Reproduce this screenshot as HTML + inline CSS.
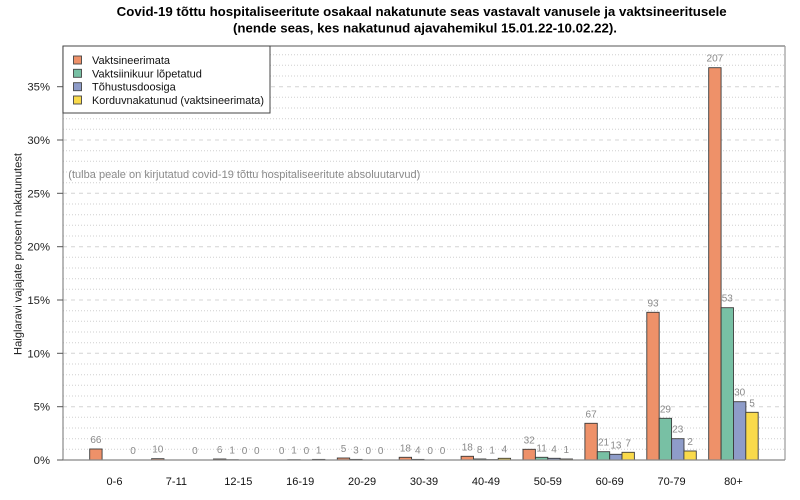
<!DOCTYPE html>
<html><head><meta charset="utf-8"><style>
html,body{margin:0;padding:0;background:#fff;}
svg{display:block;font-family:"Liberation Sans",Arial,sans-serif;}
</style></head><body>
<svg width="800" height="500" viewBox="0 0 800 500" xmlns="http://www.w3.org/2000/svg">
<rect width="800" height="500" fill="#fff"/>
<!-- title -->
<text x="421.7" y="16" text-anchor="middle" font-size="12.5" font-weight="bold" fill="#000" textLength="610" lengthAdjust="spacingAndGlyphs">Covid-19 tõttu hospitaliseeritute osakaal nakatunute seas vastavalt vanusele ja vaktsineeritusele</text>
<text x="425" y="32.5" text-anchor="middle" font-size="12.5" font-weight="bold" fill="#000" textLength="384" lengthAdjust="spacingAndGlyphs">(nende seas, kes nakatunud ajavahemikul 15.01.22-10.02.22).</text>

<!-- grid: dotted -->
<g stroke="#cfcfcf" stroke-width="1" stroke-dasharray="1 2" fill="none">
<line x1="63" x2="785" y1="449.3" y2="449.3"/><line x1="63" x2="785" y1="438.7" y2="438.7"/><line x1="63" x2="785" y1="428" y2="428"/><line x1="63" x2="785" y1="417.3" y2="417.3"/>
<line x1="63" x2="785" y1="396" y2="396"/><line x1="63" x2="785" y1="385.3" y2="385.3"/><line x1="63" x2="785" y1="374.7" y2="374.7"/><line x1="63" x2="785" y1="364" y2="364"/>
<line x1="63" x2="785" y1="342.7" y2="342.7"/><line x1="63" x2="785" y1="332" y2="332"/><line x1="63" x2="785" y1="321.3" y2="321.3"/><line x1="63" x2="785" y1="310.7" y2="310.7"/>
<line x1="63" x2="785" y1="289.3" y2="289.3"/><line x1="63" x2="785" y1="278.7" y2="278.7"/><line x1="63" x2="785" y1="268" y2="268"/><line x1="63" x2="785" y1="257.3" y2="257.3"/>
<line x1="63" x2="785" y1="236" y2="236"/><line x1="63" x2="785" y1="225.3" y2="225.3"/><line x1="63" x2="785" y1="214.7" y2="214.7"/><line x1="63" x2="785" y1="204" y2="204"/>
<line x1="63" x2="785" y1="182.7" y2="182.7"/><line x1="63" x2="785" y1="172" y2="172"/><line x1="63" x2="785" y1="161.3" y2="161.3"/><line x1="63" x2="785" y1="150.7" y2="150.7"/>
<line x1="63" x2="785" y1="129.3" y2="129.3"/><line x1="63" x2="785" y1="118.7" y2="118.7"/><line x1="63" x2="785" y1="108" y2="108"/><line x1="63" x2="785" y1="97.3" y2="97.3"/>
<line x1="63" x2="785" y1="76" y2="76"/><line x1="63" x2="785" y1="65.3" y2="65.3"/><line x1="63" x2="785" y1="54.7" y2="54.7"/>
</g>
<!-- grid: dashed -->
<g stroke="#d4d4d4" stroke-width="1" stroke-dasharray="4 4" fill="none">
<line x1="63" x2="785" y1="406.7" y2="406.7"/><line x1="63" x2="785" y1="353.3" y2="353.3"/><line x1="63" x2="785" y1="300" y2="300"/><line x1="63" x2="785" y1="246.7" y2="246.7"/><line x1="63" x2="785" y1="193.3" y2="193.3"/><line x1="63" x2="785" y1="140" y2="140"/><line x1="63" x2="785" y1="86.7" y2="86.7"/>
</g>

<!-- annotation -->
<text x="68.3" y="178" font-size="11" fill="#8a8a8a" textLength="352" lengthAdjust="spacingAndGlyphs">(tulba peale on kirjutatud covid-19 tõttu hospitaliseeritute absoluutarvud)</text>

<!-- bars -->
<g stroke="#3a3a3a" stroke-width="0.9">
<!-- 0-6 -->
<rect x="89.7" y="449" width="12.38" height="11" fill="#EE9169"/>
<rect x="127.0" y="460" width="12.38" height="0" fill="#F9DA4B"/>
<!-- 7-11 -->
<rect x="151.6" y="458.7" width="12.38" height="1.3" fill="#EE9169"/>
<!-- 12-15 -->
<rect x="213.5" y="459" width="12.38" height="1" fill="#EE9169"/>
<rect x="225.9" y="459.7" width="12.38" height="0.3" fill="#78C0A4"/>
<!-- 16-19 -->
<rect x="287.8" y="459.7" width="12.38" height="0.3" fill="#78C0A4"/>
<rect x="312.5" y="459.4" width="12.38" height="0.6" fill="#F9DA4B"/>
<!-- 20-29 -->
<rect x="337.3" y="458" width="12.38" height="2" fill="#EE9169"/>
<rect x="349.7" y="459.4" width="12.38" height="0.6" fill="#78C0A4"/>
<!-- 30-39 -->
<rect x="399.2" y="457.3" width="12.38" height="2.7" fill="#EE9169"/>
<rect x="411.6" y="459.4" width="12.38" height="0.6" fill="#78C0A4"/>
<!-- 40-49 -->
<rect x="461.1" y="456.3" width="12.38" height="3.7" fill="#EE9169"/>
<rect x="473.5" y="459" width="12.38" height="1" fill="#78C0A4"/>
<rect x="485.9" y="459.6" width="12.38" height="0.4" fill="#8E9CC9"/>
<rect x="498.2" y="458.3" width="12.38" height="1.7" fill="#F9DA4B"/>
<!-- 50-59 -->
<rect x="523.0" y="449.3" width="12.38" height="10.7" fill="#EE9169"/>
<rect x="535.4" y="457.3" width="12.38" height="2.7" fill="#78C0A4"/>
<rect x="547.8" y="458.3" width="12.38" height="1.7" fill="#8E9CC9"/>
<rect x="560.1" y="459" width="12.38" height="1" fill="#F9DA4B"/>
<!-- 60-69 -->
<rect x="584.9" y="423.3" width="12.38" height="36.7" fill="#EE9169"/>
<rect x="597.3" y="451.7" width="12.38" height="8.3" fill="#78C0A4"/>
<rect x="609.7" y="454.3" width="12.38" height="5.7" fill="#8E9CC9"/>
<rect x="622.0" y="452.3" width="12.38" height="7.7" fill="#F9DA4B"/>
<!-- 70-79 -->
<rect x="646.8" y="312.3" width="12.38" height="147.7" fill="#EE9169"/>
<rect x="659.2" y="418.3" width="12.38" height="41.7" fill="#78C0A4"/>
<rect x="671.6" y="438.7" width="12.38" height="21.3" fill="#8E9CC9"/>
<rect x="683.9" y="451" width="12.38" height="9" fill="#F9DA4B"/>
<!-- 80+ -->
<rect x="708.7" y="67.7" width="12.38" height="392.3" fill="#EE9169"/>
<rect x="721.1" y="307.7" width="12.38" height="152.3" fill="#78C0A4"/>
<rect x="733.5" y="401.7" width="12.38" height="58.3" fill="#8E9CC9"/>
<rect x="745.8" y="412.3" width="12.38" height="47.7" fill="#F9DA4B"/>
</g>

<!-- value labels -->
<g font-size="10" fill="#8a8a8a" text-anchor="middle">
<text x="95.9" y="443">66</text><text x="133.0" y="454">0</text>
<text x="157.8" y="452.7">10</text><text x="194.9" y="454">0</text>
<text x="219.7" y="453">6</text><text x="232.1" y="453.7">1</text><text x="244.5" y="454">0</text><text x="256.8" y="454">0</text>
<text x="281.6" y="454">0</text><text x="294.0" y="453.7">1</text><text x="306.4" y="454">0</text><text x="318.7" y="453.4">1</text>
<text x="343.5" y="452">5</text><text x="355.9" y="453.4">3</text><text x="368.3" y="454">0</text><text x="380.6" y="454">0</text>
<text x="405.4" y="451.3">18</text><text x="417.8" y="453.4">4</text><text x="430.2" y="454">0</text><text x="442.5" y="454">0</text>
<text x="467.3" y="450.3">18</text><text x="479.7" y="453">8</text><text x="492.1" y="453.6">1</text><text x="504.4" y="452.3">4</text>
<text x="529.2" y="443.3">32</text><text x="541.6" y="451.3">11</text><text x="554.0" y="452.3">4</text><text x="566.3" y="453">1</text>
<text x="591.1" y="417.3">67</text><text x="603.5" y="445.7">21</text><text x="615.9" y="448.3">13</text><text x="628.2" y="446.3">7</text>
<text x="653.0" y="306.3">93</text><text x="665.4" y="412.3">29</text><text x="677.8" y="432.7">23</text><text x="690.1" y="445">2</text>
<text x="714.9" y="61.7">207</text><text x="727.3" y="301.7">53</text><text x="739.7" y="395.7">30</text><text x="752.0" y="406.3">5</text>
</g>

<!-- plot box / axes -->
<line x1="63" y1="46" x2="785" y2="46" stroke="#555" stroke-width="1"/>
<line x1="785" y1="46" x2="785" y2="460" stroke="#999" stroke-width="1.2"/>
<line x1="63" y1="460" x2="785" y2="460" stroke="#888" stroke-width="1.2"/>
<line x1="63" y1="46" x2="63" y2="460" stroke="#888" stroke-width="1.2"/>

<!-- y ticks -->
<g stroke="#555" stroke-width="1">
<line x1="57" x2="63" y1="460" y2="460"/><line x1="57" x2="63" y1="406.7" y2="406.7"/><line x1="57" x2="63" y1="353.3" y2="353.3"/><line x1="57" x2="63" y1="300" y2="300"/><line x1="57" x2="63" y1="246.7" y2="246.7"/><line x1="57" x2="63" y1="193.3" y2="193.3"/><line x1="57" x2="63" y1="140" y2="140"/><line x1="57" x2="63" y1="86.7" y2="86.7"/>
</g>
<g font-size="11.3" fill="#222" text-anchor="end">
<text x="50" y="464">0%</text><text x="50" y="410.7">5%</text><text x="50" y="357.3">10%</text><text x="50" y="304">15%</text><text x="50" y="250.7">20%</text><text x="50" y="197.3">25%</text><text x="50" y="144">30%</text><text x="50" y="90.7">35%</text>
</g>
<text transform="translate(21.5,254) rotate(-90)" text-anchor="middle" font-size="10.8" fill="#222" textLength="202" lengthAdjust="spacingAndGlyphs">Haiglaravi vajajate protsent nakatunutest</text>

<!-- x labels -->
<g font-size="11" fill="#111" text-anchor="middle">
<text x="114.5" y="485">0-6</text><text x="176.4" y="485">7-11</text><text x="238.3" y="485">12-15</text><text x="300.2" y="485">16-19</text><text x="362.1" y="485">20-29</text><text x="424.0" y="485">30-39</text><text x="485.9" y="485">40-49</text><text x="547.8" y="485">50-59</text><text x="609.7" y="485">60-69</text><text x="671.6" y="485">70-79</text><text x="733.5" y="485">80+</text>
</g>

<!-- legend -->
<rect x="63" y="46" width="207" height="67" fill="#fff" stroke="#444" stroke-width="1"/>
<g stroke="#444" stroke-width="0.9">
<rect x="73.5" y="56" width="8" height="8" fill="#EE9169"/>
<rect x="73.5" y="69.3" width="8" height="8" fill="#78C0A4"/>
<rect x="73.5" y="82.7" width="8" height="8" fill="#8E9CC9"/>
<rect x="73.5" y="96" width="8" height="8" fill="#F9DA4B"/>
</g>
<g font-size="11" fill="#111">
<text x="92" y="64">Vaktsineerimata</text>
<text x="92" y="77.3">Vaktsiinikuur lõpetatud</text>
<text x="92" y="90.7">Tõhustusdoosiga</text>
<text x="92" y="104" textLength="172" lengthAdjust="spacingAndGlyphs">Korduvnakatunud (vaktsineerimata)</text>
</g>
</svg>
</body></html>
